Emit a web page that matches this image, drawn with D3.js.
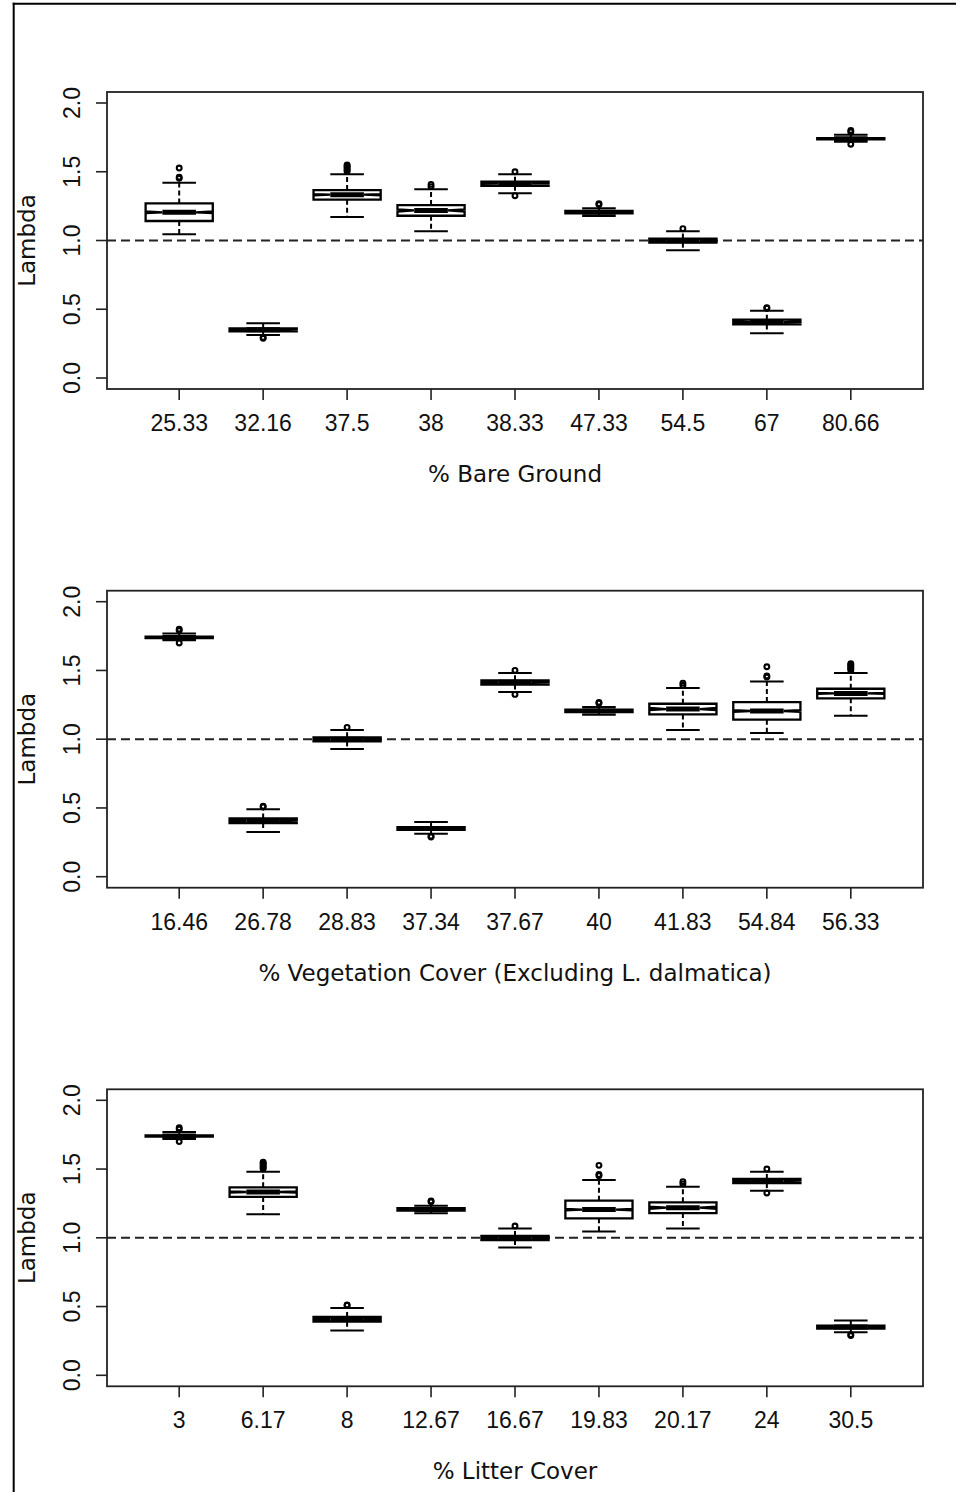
<!DOCTYPE html>
<html>
<head>
<meta charset="utf-8">
<script src="https://cdn.jsdelivr.net/npm/d3@7/dist/d3.min.js"></script>
<style>
  html, body { margin: 0; padding: 0; background: #fff; }
  svg { display: block; }
</style>
</head>
<body>
<svg id="chart" width="956" height="1492"></svg>
<script>
// ---- Data: nine sites (distribution of lambda per site) ----
const siteQ1      = [1.142, 0.340, 1.297, 1.180, 1.398, 1.197, 0.984, 0.390, 1.736];
const siteMedian  = [1.205, 0.351, 1.333, 1.219, 1.415, 1.206, 0.999, 0.407, 1.740];
const siteQ3      = [1.270, 0.361, 1.367, 1.258, 1.428, 1.215, 1.014, 0.424, 1.745];
const siteLow     = [1.045, 0.313, 1.171, 1.067, 1.343, 1.178, 0.929, 0.325, 1.719];
const siteHigh    = [1.420, 0.398, 1.481, 1.372, 1.481, 1.234, 1.067, 0.490, 1.769];
const siteNotch   = [0.006, 0.002, 0.004, 0.008, 0.002, 0.002, 0.002, 0.002, 0.001];
const siteOutliers = [
  [1.452, 1.460, 1.527],
  [0.289, 0.295],
  [1.502, 1.512, 1.522, 1.532, 1.542, 1.550],
  [1.392, 1.408],
  [1.500, 1.326],
  [1.262, 1.268],
  [1.086],
  [0.508, 0.512],
  [1.800, 1.790, 1.700]
];

// ---- Panels: tick labels, site order, axis titles ----
const bareLabels   = ["25.33", "32.16", "37.5", "38", "38.33", "47.33", "54.5", "67", "80.66"];
const bareOrder    = [0, 1, 2, 3, 4, 5, 6, 7, 8];
const vegLabels    = ["16.46", "26.78", "28.83", "37.34", "37.67", "40", "41.83", "54.84", "56.33"];
const vegOrder     = [8, 7, 6, 1, 4, 5, 3, 0, 2];
const litterLabels = ["3", "6.17", "8", "12.67", "16.67", "19.83", "20.17", "24", "30.5"];
const litterOrder  = [8, 2, 7, 5, 6, 0, 3, 4, 1];
const panelTitles  = ["% Bare Ground", "% Vegetation Cover (Excluding L. dalmatica)", "% Litter Cover"];
const yTicks       = [0, 0.5, 1.0, 1.5, 2.0];
const refLine      = 1.0;
const yLabel       = "Lambda";

const panels = [
  { labels: bareLabels,   order: bareOrder,   title: panelTitles[0] },
  { labels: vegLabels,    order: vegOrder,    title: panelTitles[1] },
  { labels: litterLabels, order: litterOrder, title: panelTitles[2] }
];

// ---- Layout ----
const svg = d3.select("#chart");
svg.append("rect").attr("width", 956).attr("height", 1492).attr("fill", "#fff");

// outer frame (left & top edges)
svg.append("line").attr("x1", 13.7).attr("x2", 13.7).attr("y1", 2.7).attr("y2", 1492)
  .attr("stroke", "#000").attr("stroke-width", 2);
svg.append("line").attr("x1", 12.7).attr("x2", 956).attr("y1", 3.7).attr("y2", 3.7)
  .attr("stroke", "#000").attr("stroke-width", 2);

const plotLeft = 107, plotRight = 923, plotH = 297;
const panelTops = [92, 590.7, 1089.3];
const lineCol = "#000";
const tickFont = "'Liberation Sans', Arial, sans-serif";
const titleFont = "'DejaVu Sans', Verdana, sans-serif";

const x = d3.scaleLinear().domain([0.14, 9.86]).range([plotLeft, plotRight]);
const halfW = (x(1.4) - x(1)); // box half width (0.4 units)

panels.forEach((p, pi) => {
  const top = panelTops[pi], bottom = top + plotH;
  const y = d3.scaleLinear().domain([-0.08, 2.08]).range([bottom, top]);
  const g = svg.append("g");

  // reference line
  g.append("line")
    .attr("x1", plotLeft).attr("x2", plotRight)
    .attr("y1", y(refLine)).attr("y2", y(refLine))
    .attr("stroke", "#222").attr("stroke-width", 2).attr("stroke-dasharray", "9,5");

  const items = p.order.map((si, i) => ({ si, pos: i + 1 }));

  items.forEach(({ si, pos }) => {
    const cx = x(pos);
    const q1 = siteQ1[si], q3 = siteQ3[si], med = siteMedian[si], n = siteNotch[si];
    const lo = siteLow[si], hi = siteHigh[si];
    const bg = g.append("g");

    // whiskers (dashed)
    bg.append("line").attr("x1", cx).attr("x2", cx).attr("y1", y(q3)).attr("y2", y(hi))
      .attr("stroke", lineCol).attr("stroke-width", 2).attr("stroke-dasharray", "5,3");
    bg.append("line").attr("x1", cx).attr("x2", cx).attr("y1", y(q1)).attr("y2", y(lo))
      .attr("stroke", lineCol).attr("stroke-width", 2).attr("stroke-dasharray", "5,3");
    // staples
    [lo, hi].forEach(v => {
      bg.append("line").attr("x1", cx - halfW / 2).attr("x2", cx + halfW / 2)
        .attr("y1", y(v)).attr("y2", y(v))
        .attr("stroke", lineCol).attr("stroke-width", 2);
    });
    // notched box
    const pts = [
      [cx - halfW, y(q1)], [cx - halfW, y(med - n)], [cx - halfW / 2, y(med)],
      [cx - halfW, y(med + n)], [cx - halfW, y(q3)], [cx + halfW, y(q3)],
      [cx + halfW, y(med + n)], [cx + halfW / 2, y(med)], [cx + halfW, y(med - n)],
      [cx + halfW, y(q1)]
    ];
    bg.append("path").attr("d", d3.line()(pts) + "Z")
      .attr("fill", "#fff").attr("stroke", lineCol).attr("stroke-width", 2.3)
      .attr("stroke-linejoin", "miter");
    // median
    bg.append("line").attr("x1", cx - halfW / 2).attr("x2", cx + halfW / 2)
      .attr("y1", y(med)).attr("y2", y(med))
      .attr("stroke", "#000").attr("stroke-width", 5);
    // outliers
    bg.selectAll("circle.out").data(siteOutliers[si]).enter().append("circle")
      .attr("cx", cx).attr("cy", d => y(d)).attr("r", 2.4)
      .attr("fill", "none").attr("stroke", "#000").attr("stroke-width", 2.1);
  });

  // plot frame
  g.append("rect").attr("x", plotLeft).attr("y", top)
    .attr("width", plotRight - plotLeft).attr("height", plotH)
    .attr("fill", "none").attr("stroke", "#222").attr("stroke-width", 1.8);

  // y axis ticks & labels
  yTicks.forEach(t => {
    g.append("line").attr("x1", plotLeft - 11).attr("x2", plotLeft)
      .attr("y1", y(t)).attr("y2", y(t)).attr("stroke", "#222").attr("stroke-width", 1.6);
    g.append("text")
      .attr("transform", `translate(80,${y(t)}) rotate(-90)`)
      .attr("text-anchor", "middle")
      .attr("font-family", tickFont).attr("font-size", 23).attr("fill", "#111")
      .text(d3.format(".1f")(t));
  });
  g.append("text")
    .attr("transform", `translate(35,${(top + bottom) / 2}) rotate(-90)`)
    .attr("text-anchor", "middle")
    .attr("font-family", titleFont).attr("font-size", 23).attr("fill", "#111")
    .text(yLabel);

  // x axis ticks & labels
  p.labels.forEach((lab, i) => {
    const cx = x(i + 1);
    g.append("line").attr("x1", cx).attr("x2", cx).attr("y1", bottom).attr("y2", bottom + 11)
      .attr("stroke", "#222").attr("stroke-width", 1.6);
    g.append("text").attr("x", cx).attr("y", bottom + 42)
      .attr("text-anchor", "middle")
      .attr("font-family", tickFont).attr("font-size", 23).attr("fill", "#111")
      .text(lab);
  });
  g.append("text").attr("x", (plotLeft + plotRight) / 2).attr("y", bottom + 93)
    .attr("text-anchor", "middle")
    .attr("font-family", titleFont).attr("font-size", 23).attr("fill", "#111")
    .text(p.title);
});
</script>
</body>
</html>
